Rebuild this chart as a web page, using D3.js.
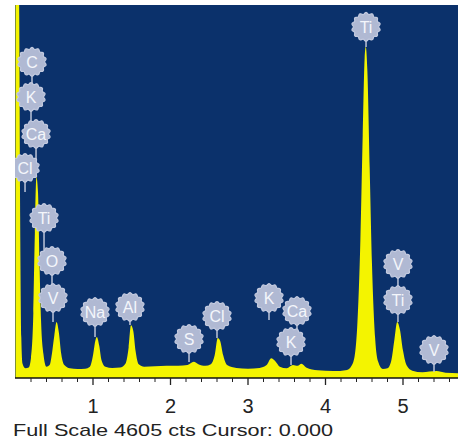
<!DOCTYPE html>
<html>
<head>
<meta charset="utf-8">
<script src="https://cdn.jsdelivr.net/npm/d3@7"></script>
<style>
  body { margin: 0; background: #fff; }
  svg { display: block; font-family: "Liberation Sans", Arial, sans-serif; }
</style>
</head>
<body>
<svg id="chart" width="459" height="447"></svg>
<script>
// spectrum (keV, counts)
var specKeV = [0.00, 0.045, 0.06, 0.075, 0.09, 0.13, 0.17, 0.20, 0.23, 0.25, 0.27, 0.29, 0.31, 0.33, 0.36,
  0.40, 0.44, 0.47, 0.50, 0.53, 0.56, 0.59, 0.63, 0.70, 0.80, 0.90, 0.96, 1.00, 1.03, 1.05, 1.08, 1.11,
  1.16, 1.25, 1.35, 1.42, 1.46, 1.49, 1.52, 1.55, 1.59, 1.66, 1.80, 1.95, 2.10, 2.22, 2.30, 2.36, 2.45,
  2.52, 2.57, 2.61, 2.64, 2.68, 2.73, 2.85, 3.00, 3.15, 3.24, 3.30, 3.35, 3.41, 3.50, 3.58, 3.64, 3.69,
  3.75, 3.90, 4.10, 4.28, 4.36, 4.41, 4.45, 4.48, 4.505, 4.52, 4.54, 4.57, 4.60, 4.64, 4.68, 4.74, 4.80,
  4.85, 4.89, 4.925, 4.96, 5.00, 5.05, 5.12, 5.25, 5.43, 5.55, 5.72];
var specCts = [4700, 4700, 2000, 500, 180, 120, 130, 250, 800, 1800, 2480, 2300, 1400, 700, 300,
  140, 160, 300, 520, 690, 560, 300, 160, 120, 110, 115, 140, 280, 460, 505, 400, 220,
  140, 125, 130, 180, 380, 650, 580, 330, 170, 140, 145, 150, 150, 160, 200, 170, 150,
  170, 280, 494, 460, 280, 160, 125, 115, 125, 160, 245, 210, 140, 120, 160, 150, 175,
  130, 95, 85, 100, 200, 650, 1700, 3000, 3950, 4090, 3800, 2600, 1400, 500, 200, 110, 120,
  220, 480, 690, 600, 340, 150, 90, 70, 85, 65, 60];

// element markers: name, balloon position (keV, counts), stem tip (counts)
var lblName = ["C", "K", "Ca", "Cl", "Ti", "O", "V", "Na", "Al", "S", "Cl", "K", "Ca", "K", "Ti", "V", "Ti", "V"];
var lblKeV  = [0.213, 0.20, 0.265, 0.123, 0.368, 0.471, 0.484, 1.026, 1.477, 2.239, 2.60, 3.271, 3.632, 3.555, 4.523, 4.935, 4.935, 5.40];
var lblCts  = [3903, 3470, 3013, 2594, 1976, 1445, 988, 815, 877, 482, 766, 988, 827, 445, 4335, 1408, 963, 346];
var lblTip  = [3470, 3013, 2594, 2297, 1445, 988, 690, 506, 654, 198, 494, 716, 445, 160, 4088, 963, 690, 74];

var fullScale = 4605;
var xTicks = [1, 2, 3, 4, 5];
var footer = "Full Scale 4605 cts Cursor: 0.000";

var svg = d3.select("#chart");
var pLeft = 15, pRight = 458, pTop = 5, pBottom = 378;

var x = d3.scaleLinear().domain([0, 5]).range([15.5, 403]);
var y = d3.scaleLinear().domain([0, fullScale]).range([pBottom, pTop]);

svg.append("defs").append("clipPath").attr("id", "plotClip")
  .append("rect").attr("x", pLeft).attr("y", pTop).attr("width", pRight - pLeft).attr("height", pBottom - pTop);

svg.append("rect")
  .attr("x", pLeft).attr("y", pTop)
  .attr("width", pRight - pLeft).attr("height", pBottom - pTop)
  .attr("fill", "#0b316b");

var spec = specKeV.map(function(k, i) { return [k, specCts[i]]; });

var area = d3.area()
  .x(function(d) { return x(d[0]); })
  .y0(pBottom)
  .y1(function(d) { return y(d[1]); })
  .curve(d3.curveMonotoneX);

svg.append("path")
  .datum(spec)
  .attr("clip-path", "url(#plotClip)")
  .attr("fill", "#f4f400")
  .attr("d", area);

// stems first, then balloons on top
var lbl = lblName.map(function(n, i) {
  return { name: n, k: lblKeV[i], c: lblCts[i], tip: lblTip[i] };
});

var g = svg.append("g").attr("clip-path", "url(#plotClip)");

g.selectAll("line.stem")
  .data(lbl)
  .enter().append("line")
    .attr("class", "stem")
    .attr("x1", function(d) { return x(d.k); })
    .attr("x2", function(d) { return x(d.k); })
    .attr("y1", function(d) { return y(d.c); })
    .attr("y2", function(d) { return y(d.tip); })
    .attr("stroke", "#bcc4d8")
    .attr("stroke-width", 1.5);

// scalloped balloon outline
var bumps = d3.range(0, 2 * Math.PI, Math.PI / 40);
var balloon = d3.lineRadial()
  .angle(function(a) { return a; })
  .radius(function(a) { return 13.5 + 0.9 * Math.cos(a * 14); })
  .curve(d3.curveCardinalClosed);

var b = g.selectAll("g.lbl")
  .data(lbl)
  .enter().append("g")
    .attr("class", "lbl")
    .attr("transform", function(d) { return "translate(" + x(d.k) + "," + y(d.c) + ")"; });

b.append("path")
  .attr("d", balloon(bumps))
  .attr("fill", "#b0b9d3")
  .attr("stroke", "#c3cadf")
  .attr("stroke-width", 1.2);

b.append("text")
  .attr("text-anchor", "middle")
  .attr("dy", "0.36em")
  .attr("font-size", 16)
  .attr("fill", "#f4f6fb")
  .text(function(d) { return d.name; });

// axis
svg.append("line")
  .attr("x1", pLeft).attr("x2", pRight)
  .attr("y1", pBottom).attr("y2", pBottom)
  .attr("stroke", "#111").attr("stroke-width", 1.5);

var minor = d3.range(0.2, 5.75, 0.2).filter(function(t) { return Math.abs(t - Math.round(t)) > 0.01; });

svg.selectAll("line.minor")
  .data(minor)
  .enter().append("line")
    .attr("x1", function(d) { return x(d); })
    .attr("x2", function(d) { return x(d); })
    .attr("y1", pBottom).attr("y2", pBottom + 4)
    .attr("stroke", "#222");

svg.selectAll("line.major")
  .data(xTicks)
  .enter().append("line")
    .attr("x1", function(d) { return x(d); })
    .attr("x2", function(d) { return x(d); })
    .attr("y1", pBottom).attr("y2", pBottom + 7)
    .attr("stroke", "#222").attr("stroke-width", 1.3);

svg.selectAll("text.tick")
  .data(xTicks)
  .enter().append("text")
    .attr("x", function(d) { return x(d); })
    .attr("y", 413)
    .attr("text-anchor", "middle")
    .attr("font-size", 20)
    .attr("fill", "#222")
    .text(function(d) { return d; });

svg.append("text")
  .attr("x", 13).attr("y", 436)
  .attr("font-size", 17)
  .attr("fill", "#222")
  .attr("textLength", 320)
  .attr("lengthAdjust", "spacingAndGlyphs")
  .text(footer);
</script>
</body>
</html>
